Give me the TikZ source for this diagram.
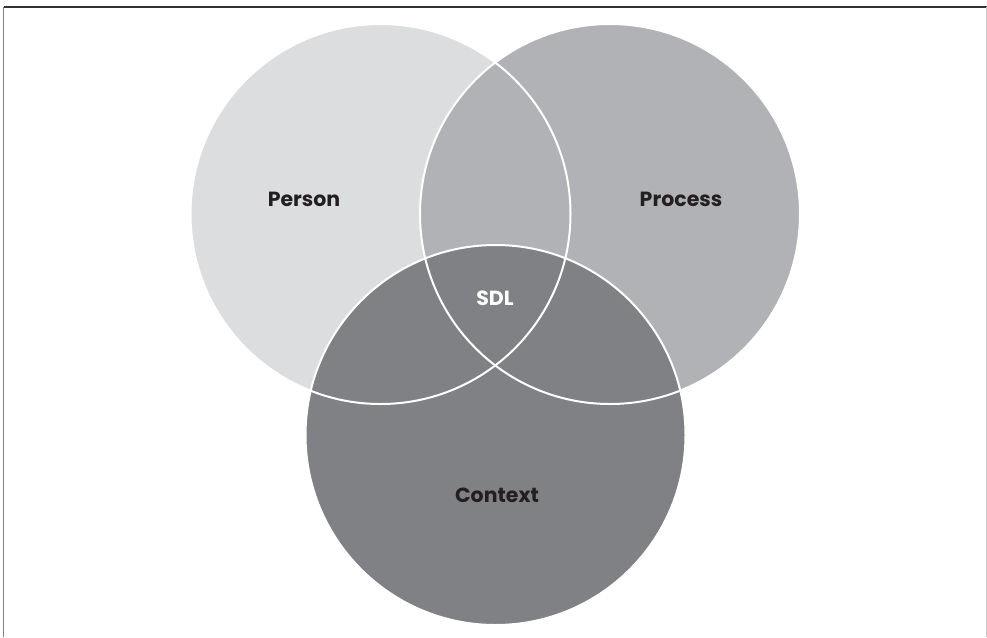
\documentclass[tikz,border=0pt]{standalone}
\usepackage{fontspec}
\setmainfont{Poppins}
\usetikzlibrary{positioning}

\definecolor{personfill}{HTML}{DCDDDF}
\definecolor{processfill}{HTML}{B1B2B5}
\definecolor{contextfill}{HTML}{808184}
\definecolor{labeltext}{HTML}{231F20}

\begin{document}
\begin{tikzpicture}[x=1pt, y=-1pt, font=\fontsize{20.5}{24}\selectfont\bfseries]
  \tikzstyle{setcircle}=[circle, minimum size=380pt, inner sep=0pt]
  \tikzstyle{setlabel}=[text=labeltext]

  \useasboundingbox (0,0) rectangle (987,637);

  % frame
  \draw[line width=1.5pt, color=black!80] (3.5,7) -- (987,7);
  \draw[line width=1.5pt, color=black!50] (3.5,7) -- (3.5,637);
  \draw[line width=1pt, color=black!20] (986.5,7) -- (986.5,637);

  % the three sets
  \node[setcircle, fill=personfill] (person) at (380.5,214) {};
  \node[setcircle, fill=processfill] (process) at (610,214) {};
  \node[setcircle, fill=contextfill] (context) at (495.5,435) {};

  % white outlines
  \draw[white, line width=2pt] (person.center) circle (190);
  \draw[white, line width=2pt] (process.center) circle (190);
  \draw[white, line width=2pt] (context.center) circle (190);

  \node[setlabel] (personlbl) at (304,199) {Person};
  \node[setlabel] (processlbl) at (681,199) {Process};
  \node[text=white] (sdl) at (495,298) {SDL};
  \node[setlabel] (contextlbl) at (497,495) {Context};
\end{tikzpicture}
\end{document}
